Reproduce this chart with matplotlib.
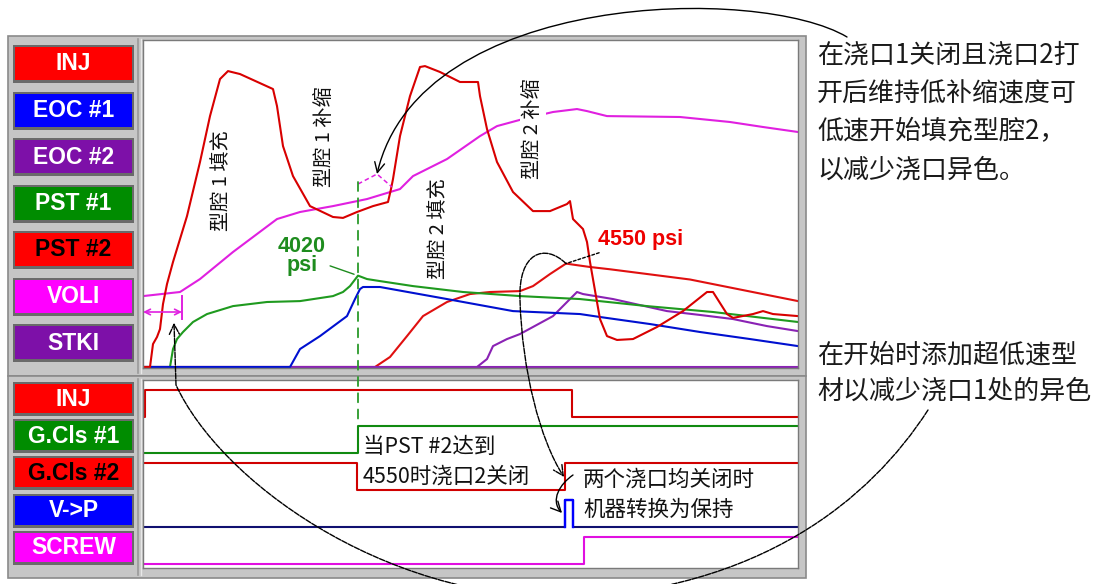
import matplotlib
matplotlib.use("Agg")
import matplotlib.pyplot as plt
from matplotlib.patches import Rectangle, FancyArrowPatch, ConnectionPatch
from matplotlib.path import Path

CJK = ["Noto Sans CJK SC", "DejaVu Sans"]
LATIN = ["Liberation Sans", "DejaVu Sans"]

# ---------------- analog channels: sample index vs. psi ----------------
inj_t = [0, 7, 10, 14, 17, 20, 24, 30, 37, 44, 57, 67, 77, 85, 97, 130, 134, 140, 150, 167,
         190, 200, 214, 230, 245, 248, 250, 257, 267, 277, 282, 297, 317, 335, 337, 344, 354, 370, 390, 407,
         424, 427, 430, 440, 444, 447, 454, 457, 464, 474, 490, 514, 540, 564, 570, 584, 590, 610, 620, 630, 655]
inj_v = [0, 0, 1010, 1320, 1670, 2770, 3650, 4620, 5630, 6640, 9020, 11040, 12670, 13020, 12890, 12230, 11480, 9720, 8400, 7080,
         6600, 6560, 6820, 7080, 7260, 7830, 8270, 10160, 11920, 13200, 13240, 12980, 12540, 12540, 11920, 10470, 9020, 7700, 6860, 6860,
         7170, 7300, 6510, 6070, 5500, 4620, 2860, 2110, 1360, 1190, 1230, 1760, 2460, 3300, 3300, 2330, 2160, 2330, 2460, 2330, 2240]

voli_t = [0, 37, 57, 90, 134, 157, 190, 224, 257, 270, 304, 337, 354, 380, 410, 434, 444, 464, 537, 587, 620, 655]
voli_v = [3120, 3300, 3870, 5060, 6510, 6820, 7080, 7390, 7830, 8400, 9150, 10160, 10600, 10910, 11220, 11350, 11260, 11040,
          11000, 10780, 10560, 10340]

pst1_t = [0, 27, 30, 34, 40, 50, 64, 90, 124, 157, 190, 200, 207, 215, 224, 237, 270, 320, 377, 437, 504, 570, 655]
pst1_v = [0, 0, 790, 1230, 1540, 1980, 2330, 2680, 2860, 2900, 3120, 3300, 3560, 4020, 3870, 3780, 3560, 3300, 3120, 2990,
          2680, 2420, 1980]

eoc1_t = [0, 147, 157, 177, 204, 212, 217, 220, 237, 304, 370, 437, 457, 507, 557, 607, 655]
eoc1_v = [0, 0, 790, 1360, 2240, 2990, 3430, 3520, 3520, 2990, 2460, 2330, 2200, 1890, 1540, 1230, 920]

eoc2_t = [0, 334, 344, 350, 364, 377, 410, 434, 440, 470, 524, 557, 590, 624, 655]
eoc2_v = [0, 0, 350, 920, 1230, 1450, 2240, 3300, 3210, 2990, 2460, 2290, 2110, 1800, 1580]

pst2_t = [0, 232, 247, 264, 280, 304, 327, 347, 377, 390, 407, 423, 434, 447, 467, 547, 655]
pst2_v = [0, 0, 440, 1360, 2240, 2860, 3210, 3300, 3340, 3560, 4090, 4550, 4480, 4400, 4300, 3850, 2900]

stki_t = [0, 655]
stki_v = [0, 0]

# highlighted VOLI kink and the initial slow-speed window
voli_mark_t = [215, 234, 249]
voli_mark_v = [8050, 8490, 7920]
slow_window = [0, 39]
pst1_peak = (215, 4020)
pst2_peak = (423, 4550)

# ---------------- digital channels: switch times and states ----------------
inj_sw_t = [0, 2, 429, 655]
inj_sw = [0, 1, 0, 0]
gcls1_t = [0, 215, 655]
gcls1 = [0, 1, 1]
gcls2_t = [0, 214, 422, 655]
gcls2 = [1, 0, 1, 1]
vp_t = [0, 422, 430, 655]
vp = [0, 1, 0, 0]
screw_t = [0, 441, 655]
screw = [0, 1, 1]

up_labels = ["INJ", "EOC #1", "EOC #2", "PST #1", "PST #2", "VOLI", "STKI"]
up_fill = ["#ff0000", "#0000ff", "#7d10a8", "#008c00", "#ff0000", "#ff00ff", "#7d10a8"]
up_ink = ["white", "white", "white", "white", "black", "white", "white"]
lo_labels = ["INJ", "G.Cls #1", "G.Cls #2", "V->P", "SCREW"]
lo_fill = ["#ff0000", "#008c00", "#ff0000", "#0000ff", "#ff00ff"]
lo_ink = ["white", "white", "black", "white", "white"]

RED, RED2, GREEN, BLUE, PURPLE, MAGENTA, NAVY = (
    "#d80000", "#e01010", "#1f9a1f", "#0010d0", "#8a22b4", "#e020e0", "#101070")

W, H = 1098, 584
fig = plt.figure(figsize=(W / 100, H / 100), dpi=100, facecolor="white")


def box(x0, y0, x1, y1):
    return [x0 / W, 1 - y1 / H, (x1 - x0) / W, (y1 - y0) / H]


bg = fig.add_axes([0, 0, 1, 1], zorder=0)
bg.set_xlim(0, W)
bg.set_ylim(H, 0)
bg.axis("off")

# window frames
for (y0, y1) in [(36, 376), (376, 578)]:
    bg.add_patch(Rectangle((8, y0), 798, y1 - y0, fc="#c6c6c6", ec="#8a8a8a", lw=1.2))
    bg.plot([138, 138], [y0 + 3, y1 - 3], color="#9a9a9a", lw=1.2)
    bg.plot([141, 141], [y0 + 3, y1 - 3], color="#e8e8e8", lw=1.0)


def button(x0, y0, h, fill, ink, label):
    bg.add_patch(Rectangle((13, y0 - 2), 121, h + 5, fc="#6a6a6a", ec="none"))
    bg.add_patch(Rectangle((15, y0), 117, h, fc=fill, ec="none"))
    bg.text(73.5, y0 + h / 2 + 0.5, label, ha="center", va="center", color=ink,
            fontsize=16.5, fontweight="bold", family=LATIN)


for i, (lab, f, k) in enumerate(zip(up_labels, up_fill, up_ink)):
    button(15, 47 + i * 46.5, 33, f, k, lab)
for i, (lab, f, k) in enumerate(zip(lo_labels, lo_fill, lo_ink)):
    button(15, 384 + i * 37.2, 29, f, k, lab)

# ---------------- analog trace panel ----------------
ax_u = fig.add_axes(box(143, 40, 798, 368), zorder=1)
ax_u.set_xlim(0, 655)
ax_u.set_ylim(-44, 14388)
ax_u.set_xticks([])
ax_u.set_yticks([])
for s in ax_u.spines.values():
    s.set_color("#7a7a7a")
    s.set_linewidth(1.0)

lw = 1.5
ax_u.plot(stki_t, stki_v, color=PURPLE, lw=lw)
ax_u.plot(pst2_t, pst2_v, color=RED2, lw=lw)
ax_u.plot(eoc2_t, eoc2_v, color=PURPLE, lw=lw)
ax_u.plot(voli_t, voli_v, color=MAGENTA, lw=lw)
ax_u.plot(pst1_t, pst1_v, color=GREEN, lw=lw)
ax_u.plot(eoc1_t, eoc1_v, color=BLUE, lw=lw)
ax_u.plot(inj_t, inj_v, color=RED, lw=lw)

ax_u.plot(voli_mark_t, voli_mark_v, color=MAGENTA, lw=1.1, ls=(0, (3, 2)))
ax_u.annotate("", xy=(slow_window[0], 2420), xytext=(slow_window[1], 2420),
              arrowprops=dict(arrowstyle="<->", color=MAGENTA, lw=1.2, shrinkA=0, shrinkB=0))
for tx in slow_window:
    ax_u.plot([tx, tx], [2100, 3120], color=MAGENTA, lw=1.4)

cav = dict(rotation=90, ha="center", va="center", fontsize=14.5, family=CJK, color="#111111",
           bbox=dict(fc="white", ec="none", pad=1.5))
ax_u.text(79, 8180, "型腔 1 填充", **cav)
ax_u.text(181, 10120, "型腔 1 补缩", **cav)
ax_u.text(296, 6070, "型腔 2 填充", **cav)
ax_u.text(390, 10470, "型腔 2 补缩", **cav)

ax_u.annotate("4020\npsi", xy=pst1_peak, xytext=(159, 4880), ha="center", va="center",
              color="#1e8c1e", fontsize=15.5, fontweight="bold", family=LATIN, linespacing=0.85,
              arrowprops=dict(arrowstyle="-", color="#1e8c1e", lw=1.0, shrinkA=1, shrinkB=3))
ax_u.annotate("4550 psi", xy=pst2_peak, xytext=(498, 5630), ha="center", va="center",
              color="#ee0000", fontsize=15.5, fontweight="bold", family=LATIN,
              arrowprops=dict(arrowstyle="-", color="black", lw=1.0, ls=(0, (2, 1.5)),
                              shrinkA=1, shrinkB=0))

# ---------------- digital signal panel ----------------
ax_l = fig.add_axes(box(143, 380, 798, 568), zorder=1)
ax_l.set_xlim(0, 655)
ax_l.set_ylim(188, 0)
ax_l.set_xticks([])
ax_l.set_yticks([])
for s in ax_l.spines.values():
    s.set_color("#7a7a7a")
    s.set_linewidth(1.0)

lane_low = [37, 73, 110, 147, 184]
amp = 27
signals = [(inj_sw_t, inj_sw, "#d00000"), (gcls1_t, gcls1, "#108a10"),
           (gcls2_t, gcls2, "#d00000"), (vp_t, vp, NAVY), (screw_t, screw, "#e010e0")]
for (t, st, c), base in zip(signals, lane_low):
    ax_l.plot(t, [base - amp * s for s in st], drawstyle="steps-post", color=c, lw=1.5)
# V->P transfer pulse drawn in bright blue
p0, p1 = vp_t[1], vp_t[2]
ax_l.plot([p0, p0, p1, p1], [lane_low[3], lane_low[3] - amp, lane_low[3] - amp, lane_low[3]],
          color="#0000ff", lw=1.7)

note = dict(ha="left", va="center", fontsize=15.5, family=CJK, color="#111111")
ax_l.text(220, 67, "当PST #2达到", **note)
ax_l.text(220, 97, "4550时浇口2关闭", **note)
ax_l.text(440, 100, "两个浇口均关闭时", **note)
ax_l.text(440, 130, "机器转换为保持", **note)

# dashed marker at gate 1 closing, running across both panels
con = ConnectionPatch(xyA=(pst1_peak[0], 8140), coordsA=ax_u.transData,
                      xyB=(gcls1_t[1], lane_low[1] - amp - 2), coordsB=ax_l.transData,
                      color="#2a9a2a", lw=1.3, ls=(0, (5, 4)), zorder=6)
fig.add_artist(con)

# ---------------- callouts ----------------
top = fig.add_axes([0, 0, 1, 1], zorder=5)
top.set_xlim(0, W)
top.set_ylim(H, 0)
top.axis("off")


def to_px(ax, x, y):
    X, Y = ax.transData.transform((x, y))
    return (X, H - Y)


M, C4, L = Path.MOVETO, Path.CURVE4, Path.LINETO
head = "->,head_length=0.6,head_width=0.3"


def curve(verts, codes, ls="-"):
    top.add_patch(FancyArrowPatch(path=Path(verts, codes), arrowstyle=head, mutation_scale=12,
                                  color="black", lw=1.0, ls=ls))


curve([(847, 37), (760, -15), (420, -10), to_px(ax_u, voli_mark_t[1], voli_mark_v[1])], [M, C4, C4, C4])
curve([(928, 410), (870, 500), (760, 590), (567, 598), (380, 598), (220, 480), (176, 385),
       to_px(ax_u, 31, 1950)], [M, C4, C4, C4, C4, C4, C4, L], ls=(0, (4, 1)))
curve([to_px(ax_u, *pst2_peak), (545, 243), (518, 252), (520, 300), (522, 370), (540, 440),
       to_px(ax_l, gcls2_t[2] - 1, 97)], [M, C4, C4, C4, C4, C4, C4], ls=(0, (4, 1)))
curve([to_px(ax_l, 430, 95), (560, 484), (550, 500), to_px(ax_l, vp_t[1] - 3, 133)], [M, C4, C4, C4])

side = dict(ha="left", va="center", fontsize=18.7, family=CJK, color="#1a1a1a")
for y, s in zip([55, 94, 132, 170], ["在浇口1关闭且浇口2打", "开后维持低补缩速度可",
                                      "低速开始填充型腔2，", "以减少浇口异色。"]):
    top.text(817, y, s, **side)
for y, s in zip([355, 391], ["在开始时添加超低速型", "材以减少浇口1处的异色"]):
    top.text(817, y, s, **side)

fig.savefig("out.png", dpi=100, facecolor="white")
